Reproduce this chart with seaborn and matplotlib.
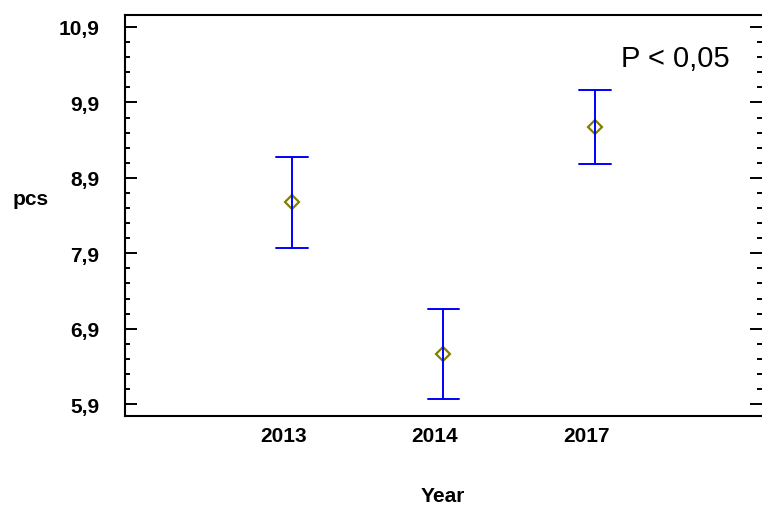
import numpy as np
import pandas as pd
import matplotlib
matplotlib.use("Agg")
import matplotlib.pyplot as plt
import matplotlib.ticker as mticker
from matplotlib.transforms import ScaledTranslation
import seaborn as sns

years = ["2013", "2014", "2017"]
means = [8.58, 6.57, 9.58]
lower = [7.97, 5.97, 9.08]
upper = [9.17, 7.16, 10.07]

sns.set_theme(style="white")
plt.rcParams["font.family"] = ["Liberation Sans", "DejaVu Sans"]
plt.rcParams["axes.labelcolor"] = "black"
plt.rcParams["text.color"] = "black"

# one row each for lower / mean / upper; median -> mean, full range -> interval
df = pd.DataFrame({
    "Year": np.repeat(years, 3),
    "pcs": np.ravel(np.column_stack([lower, means, upper])),
})

fig, ax = plt.subplots(figsize=(7.62, 5.06), dpi=100)
fig.subplots_adjust(left=0.164, right=1.0, bottom=0.175, top=0.969)

sns.pointplot(data=df, x="Year", y="pcs", order=years, estimator="median",
              errorbar=("pi", 100), capsize=0.21, linestyle="none",
              marker="D", markersize=7, markerfacecolor="none",
              markeredgecolor="#808000", markeredgewidth=1.6,
              color="#0000ff", err_kws={"color": "#0000ff", "linewidth": 1.4},
              ax=ax)

ax.set_xlim(-1.1, 3.1)
ax.set_ylim(5.737, 11.063)
ax.yaxis.set_major_locator(mticker.MultipleLocator(1.0, offset=0.9))
ax.yaxis.set_minor_locator(mticker.MultipleLocator(0.2, offset=0.1))
ax.yaxis.set_major_formatter(mticker.FuncFormatter(lambda v, p: f"{v:.1f}".replace(".", ",")))

ax.tick_params(axis="y", which="major", direction="in", length=8.6, width=1.4,
               left=True, right=True, pad=18.5, labelsize=15, colors="black")
ax.tick_params(axis="y", which="minor", direction="in", length=3.6, width=1.4,
               left=True, right=True, colors="black")
ax.tick_params(axis="x", length=0, pad=7, labelsize=15, colors="black")
for lab in ax.get_xticklabels() + ax.get_yticklabels():
    lab.set_fontweight("bold")
for lab in ax.get_xticklabels():
    lab.set_transform(lab.get_transform() + ScaledTranslation(-0.085, 0, fig.dpi_scale_trans))

for side in ["left", "top", "bottom"]:
    ax.spines[side].set_color("black")
    ax.spines[side].set_linewidth(1.5)
ax.spines["right"].set_visible(False)

ax.set_ylabel("pcs", rotation=0, fontsize=15, fontweight="bold", ha="center", va="center")
ax.yaxis.set_label_coords(-0.148, 0.542)
ax.set_xlabel("Year", fontsize=15, fontweight="bold", va="top")
ax.xaxis.set_label_coords(0.499, -0.172)

ax.text(0.779, 0.873, "P < 0,05", transform=ax.transAxes, fontsize=21,
        va="baseline", ha="left", color="black")

fig.savefig("out.png", dpi=100)
